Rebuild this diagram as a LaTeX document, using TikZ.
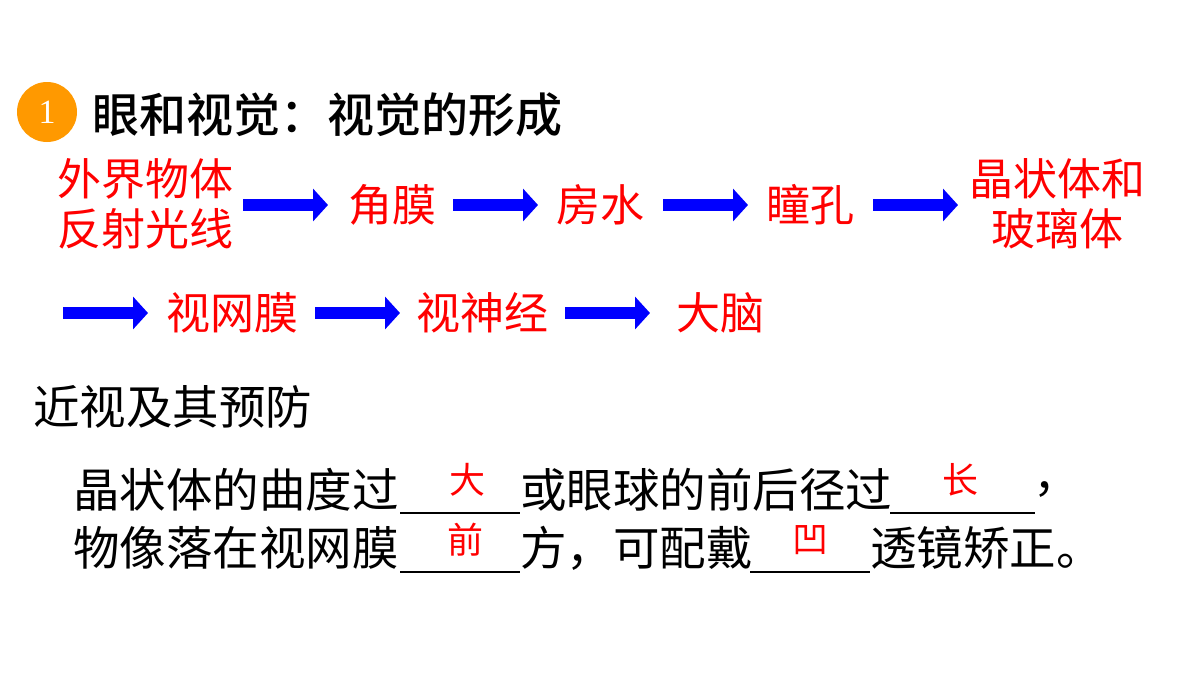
\documentclass[tikz,border=0pt]{standalone}
\usepackage{fontspec}
\setmainfont{Noto Sans CJK SC}
\newfontfamily\numfont{Liberation Serif}
\newfontfamily\medfont{Noto Sans CJK SC Medium}
\usetikzlibrary{arrows.meta}
\begin{document}
\begin{tikzpicture}[x=1pt,y=-1pt,
  red/.style={text=red,font=\fontsize{44}{50}\selectfont,inner sep=0,align=center},
  blk/.style={text=black,font=\fontsize{46.5}{50}\selectfont,inner sep=0,anchor=west},
  ans/.style={text=red,font=\fontsize{36}{40}\selectfont,inner sep=0},
  flow/.style={draw={rgb,255:red,0;green,0;blue,255},line width=12pt,-{Triangle[length=15pt,width=32pt]}},
  blank/.style={draw=black,line width=1.6pt}]
\useasboundingbox (0,0) rectangle (1200,675);
\fill[orange!80!yellow] (47,112) circle (30);
\node[text=white,font=\numfont\fontsize{34}{36}\selectfont] (badge) at (47,112) {1};
\node[blk,font=\medfont\fontsize{47}{50}\selectfont] (title) at (92,115) {眼和视觉：视觉的形成};
\node[red] (n1) at (145,204) {外界物体\\反射光线};
\node[red] (n2) at (392,205) {角膜};
\node[red] (n3) at (600,205) {房水};
\node[red] (n4) at (810,205) {瞳孔};
\node[red] (n5) at (1057,204) {晶状体和\\玻璃体};
\node[red] (n6) at (232,313) {视网膜};
\node[red] (n7) at (482,313) {视神经};
\node[red] (n8) at (720,313) {大脑};
\coordinate (a1) at (243,205); \coordinate (b1) at (328,205);
\coordinate (a2) at (453,205); \coordinate (b2) at (538,205);
\coordinate (a3) at (663,205); \coordinate (b3) at (748,205);
\coordinate (a4) at (873,205); \coordinate (b4) at (958,205);
\coordinate (a5) at (63,313); \coordinate (b5) at (148,313);
\coordinate (a6) at (315,313); \coordinate (b6) at (400,313);
\coordinate (a7) at (565,313); \coordinate (b7) at (650,313);
\foreach \i in {1,...,7} \draw[flow] (a\i) -- (b\i);
\node[blk] (h) at (33,407) {近视及其预防};
\node[blk] (l1a) at (73,490) {晶状体的曲度过};
\node[blk] (l1b) at (520,490) {或眼球的前后径过};
\node[blk] (l1c) at (1033,490) {，};
\node[blk] (l2a) at (73,548) {物像落在视网膜};
\node[blk] (l2b) at (520,548) {方，可配戴};
\node[blk] (l2c) at (870,548) {透镜矫正。};
\draw[blank] (400,513) -- (520,513);
\draw[blank] (890,513) -- (1035,513);
\draw[blank] (400,572) -- (520,572);
\draw[blank] (750,572) -- (870,572);
\node[ans] (x1) at (467,480) {大};
\node[ans] (x2) at (960,480) {长};
\node[ans] (x3) at (465,540) {前};
\node[ans] (x4) at (810,540) {凹};
\end{tikzpicture}
\end{document}
